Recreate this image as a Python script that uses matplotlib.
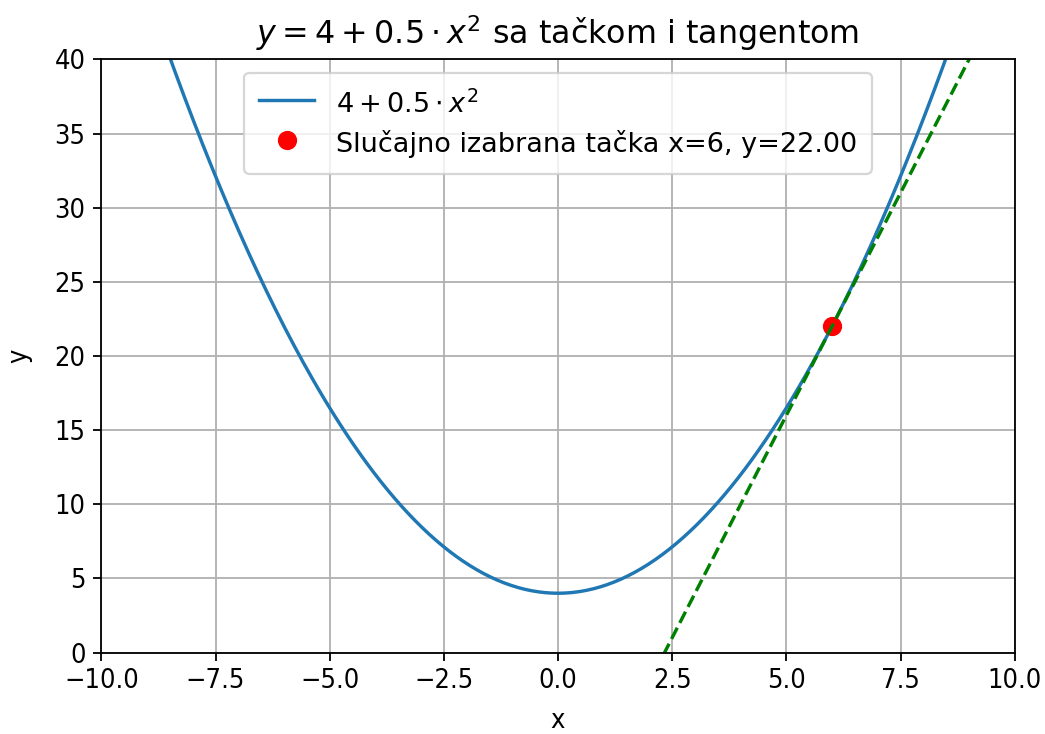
import numpy as np
import matplotlib
matplotlib.use("Agg")
import matplotlib.pyplot as plt

# parabola y = a + b*x^2 and the chosen point
a = 4
b = 0.5
x0 = 6
x_range = [-10, 10]
y_range = [0, 40]

x = np.linspace(x_range[0], x_range[1], 400)
y = a + b * x**2
y0 = a + b * x0**2
slope = 2 * b * x0
tangent = y0 + slope * (x - x0)

fig = plt.figure(figsize=(1045 / 163, 734 / 163), dpi=163)
ax = fig.add_axes([0.097, 0.111, 0.874, 0.808])

ax.plot(x, y, label=r'$4 + 0.5 \cdot x^2$')
ax.plot(x0, y0, 'ro', ms=7.5, label=f'Slučajno izabrana tačka x={x0}, y={y0:.2f}')
ax.plot(x, tangent, 'g--')

ax.set_xlim(x_range)
ax.set_ylim(y_range)
ax.set_xlabel('x', fontsize=12, fontstretch='condensed', labelpad=6)
ax.set_ylabel('y', fontsize=12, fontstretch='condensed', labelpad=10)
ax.set_title(r'$y = 4 + 0.5 \cdot x^2$ sa tačkom i tangentom', fontsize=14, pad=7)
ax.tick_params(labelsize=12)
for lbl in ax.get_xticklabels() + ax.get_yticklabels():
    lbl.set_fontstretch('condensed')
ax.grid(True)
ax.legend(loc='upper center', fontsize=12, borderpad=0.55,
          handleheight=1.4, labelspacing=0.3)

fig.savefig('out.png', dpi=163)
